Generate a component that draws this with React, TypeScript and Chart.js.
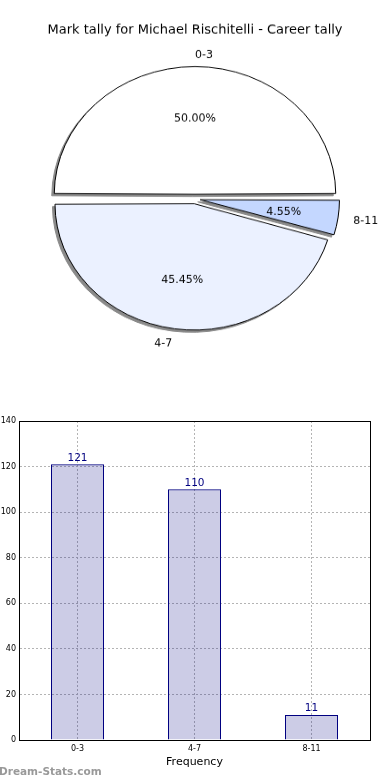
import React, { useEffect, useRef } from 'react';
import { Chart, registerables } from 'chart.js';

Chart.register(...registerables);

// ---------- data ----------
const TITLE = 'Mark tally for Michael Rischitelli - Career tally';
const CATEGORIES = ['0-3', '4-7', '8-11'];
const COUNTS = [121, 110, 11];
const PIE_COLORS = ['#ffffff', '#ebf1ff', '#c4d7ff'];
// drawing order (clockwise from 9 o'clock) to match the counter-clockwise layout of the original
const PIE_ORDER = [0, 2, 1];
const Y_MIN = 0;
const Y_MAX = 140;
const Y_STEP = 20;
const X_TITLE = 'Frequency';
const WATERMARK = 'Dream-Stats.com';

// ---------- styling ----------
const FONT = '"DejaVu Sans", Verdana, sans-serif';
const PIE_W = 390;
const PIE_H_INT = 441;
const PIE_H = 400;
const SY = PIE_H / PIE_H_INT;
const PIE_OFFSET = 21; // chart.js translates by offset/4
const PIE_RADIUS = 135.5;
const SHADOW = '#8a8a8a';

function drawText(
  ctx: CanvasRenderingContext2D,
  text: string,
  x: number,
  y: number,
  align: CanvasTextAlign,
  size: number,
  visualCenter = true
) {
  ctx.save();
  ctx.translate(x, y);
  ctx.scale(1, 1 / SY);
  ctx.font = `${size}px ${FONT}`;
  ctx.fillStyle = '#000';
  ctx.textAlign = align;
  if (visualCenter) {
    ctx.textBaseline = 'alphabetic';
    ctx.fillText(text, 0, size * 0.36);
  } else {
    ctx.textBaseline = 'middle';
    ctx.fillText(text, 0, 0);
  }
  ctx.restore();
}

const shadowPlugin = {
  id: 'pieShadow',
  beforeDatasetsDraw(chart: any) {
    const ctx = chart.ctx as CanvasRenderingContext2D;
    const meta = chart.getDatasetMeta(0);
    meta.data.forEach((arc: any) => {
      const fake = Object.create(arc);
      fake.options = { ...arc.options, backgroundColor: SHADOW, borderColor: SHADOW };
      ctx.save();
      ctx.translate(-2.5, 2.5);
      arc.constructor.prototype.draw.call(fake, ctx);
      ctx.restore();
    });
  },
};

const pieLabelPlugin = {
  id: 'pieLabels',
  afterDraw(chart: any) {
    const ctx = chart.ctx as CanvasRenderingContext2D;
    const meta = chart.getDatasetMeta(0);
    const vals: number[] = chart.data.datasets[0].data;
    const labels: string[] = chart.data.labels;
    const total = vals.reduce((a, b) => a + b, 0);
    const off = PIE_OFFSET / 4;
    meta.data.forEach((arc: any, i: number) => {
      const p = arc.getProps(['x', 'y', 'startAngle', 'endAngle', 'outerRadius'], true);
      const mid = (p.startAngle + p.endAngle) / 2;
      const cos = Math.cos(mid);
      const sin = Math.sin(mid);
      const cx = p.x + cos * off;
      const cy = p.y + sin * off;
      const R = p.outerRadius + 5;
      drawText(ctx, labels[i], cx + 1.1 * R * cos, cy + 1.1 * R * sin, cos > 0 ? 'left' : 'right', 11);
      const pct = ((vals[i] / total) * 100).toFixed(2) + '%';
      drawText(ctx, pct, cx + 0.6 * R * cos, cy + 0.6 * R * sin, 'center', 11);
    });
    drawText(ctx, TITLE, PIE_W / 2, 30 / SY, 'center', 13, false);
  },
};

const barValuePlugin = {
  id: 'barValues',
  afterDatasetsDraw(chart: any) {
    const ctx = chart.ctx as CanvasRenderingContext2D;
    const meta = chart.getDatasetMeta(0);
    const vals: number[] = chart.data.datasets[0].data;
    ctx.save();
    ctx.font = `10.5px ${FONT}`;
    ctx.fillStyle = '#000080';
    ctx.textAlign = 'center';
    ctx.textBaseline = 'alphabetic';
    meta.data.forEach((bar: any, i: number) => {
      ctx.fillText(String(vals[i]), bar.x, bar.y - 3.5);
    });
    ctx.restore();
  },
};

const framePlugin = {
  id: 'frame',
  afterDraw(chart: any) {
    const ctx = chart.ctx as CanvasRenderingContext2D;
    const a = chart.chartArea;
    ctx.save();
    ctx.strokeStyle = '#000';
    ctx.lineWidth = 1;
    ctx.strokeRect(Math.round(a.left) + 0.5, Math.round(a.top) + 0.5, Math.round(a.right - a.left), Math.round(a.bottom - a.top));
    ctx.restore();
  },
};

export default function App() {
  const pieRef = useRef<HTMLCanvasElement>(null);
  const barRef = useRef<HTMLCanvasElement>(null);

  useEffect(() => {
    const pie = new Chart(pieRef.current as HTMLCanvasElement, {
      type: 'pie',
      data: {
        labels: PIE_ORDER.map((i) => CATEGORIES[i]),
        datasets: [
          {
            data: PIE_ORDER.map((i) => COUNTS[i]),
            backgroundColor: PIE_ORDER.map((i) => PIE_COLORS[i]),
            borderColor: '#000',
            borderWidth: 1,
            offset: PIE_OFFSET,
          },
        ],
      },
      options: {
        responsive: false,
        animation: false,
        events: [],
        rotation: -90,
        radius: PIE_RADIUS,
        layout: { padding: { top: 0, bottom: 2.2, left: 0, right: 0 } },
        plugins: {
          legend: { display: false },
          tooltip: { enabled: false },
          title: { display: false },
        },
      } as any,
      plugins: [shadowPlugin, pieLabelPlugin],
    });

    const gridColor = '#b4b4b4';
    const bar = new Chart(barRef.current as HTMLCanvasElement, {
      type: 'bar',
      data: {
        labels: CATEGORIES,
        datasets: [
          {
            data: COUNTS,
            backgroundColor: 'rgba(0,0,128,0.2)',
            borderColor: '#000080',
            borderWidth: 1,
            barThickness: 53,
            inflateAmount: 0,
          },
        ],
      },
      options: {
        responsive: false,
        animation: false,
        events: [],
        layout: { padding: { left: 0, right: 20, top: 21, bottom: 0 } },
        plugins: {
          legend: { display: false },
          tooltip: { enabled: false },
        },
        scales: {
          x: {
            offset: true,
            grid: { offset: false, color: gridColor, lineWidth: 1, drawTicks: false },
            border: { color: '#000', width: 1, dash: [2, 2] },
            ticks: { font: { family: FONT, size: 8 }, color: '#000', padding: 4 },
            title: {
              display: true,
              text: X_TITLE,
              font: { family: FONT, size: 11 },
              color: '#000',
              padding: { top: 0, bottom: 11 },
            },
            afterFit: (s: any) => {
              s.height = 40;
            },
          },
          y: {
            min: Y_MIN,
            max: Y_MAX,
            ticks: { stepSize: Y_STEP, font: { family: FONT, size: 8 }, color: '#000', padding: 3 },
            grid: { color: gridColor, lineWidth: 1, drawTicks: false },
            border: { color: '#000', width: 1, dash: [2, 2] },
            afterFit: (s: any) => {
              s.width = 19;
            },
          },
        },
      } as any,
      plugins: [barValuePlugin, framePlugin],
    });

    return () => {
      pie.destroy();
      bar.destroy();
    };
  }, []);

  return (
    <div style={{ position: 'absolute', left: 0, top: 0, width: 390, height: 780, background: '#fff', overflow: 'hidden' }}>
      <canvas
        ref={pieRef}
        width={PIE_W}
        height={PIE_H_INT}
        style={{ position: 'absolute', left: 0, top: 0, width: PIE_W, height: PIE_H }}
      />
      <canvas
        ref={barRef}
        width={390}
        height={380}
        style={{ position: 'absolute', left: 0, top: 400, width: 390, height: 380 }}
      />
      <div
        style={{
          position: 'absolute',
          left: -1,
          top: 765,
          font: `bold 10.5px ${FONT}`,
          color: '#999',
          lineHeight: '12px',
          whiteSpace: 'nowrap',
        }}
      >
        {WATERMARK}
      </div>
    </div>
  );
}
